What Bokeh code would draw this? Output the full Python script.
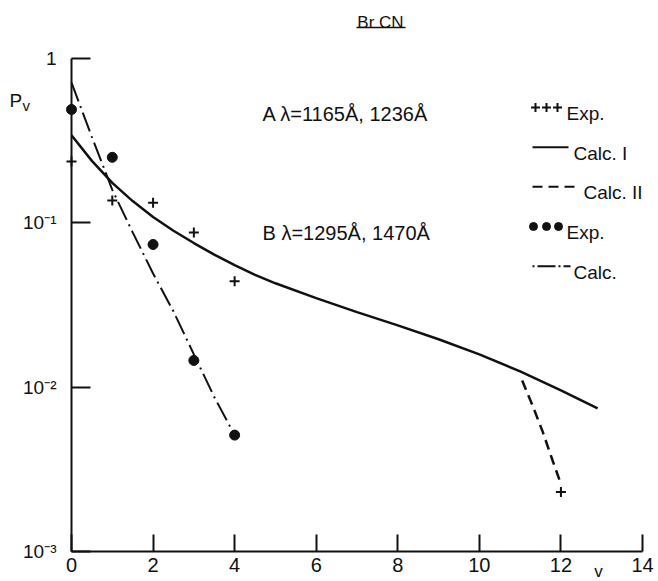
from bokeh.plotting import figure
from bokeh.models import Label, FixedTicker, Range1d, LinearAxis, LogAxis
from bokeh.embed import file_html
from bokeh.resources import INLINE

# ---- BrCN photodissociation: vibrational population P_v of CN ----
# A: lambda = 1165 A, 1236 A  -- experiment (crosses)
v_exp_a = [0, 1, 2, 3, 4, 12]
p_exp_a = [0.235, 0.136, 0.132, 0.087, 0.044, 0.0023]

# B: lambda = 1295 A, 1470 A  -- experiment (dots)
v_exp_b = [0, 1, 2, 3, 4]
p_exp_b = [0.486, 0.249, 0.0735, 0.0145, 0.0051]

# A: calculation I (solid)
v_calc1 = [0, 0.5, 1, 1.5, 2, 2.5, 3, 3.5, 4, 4.5, 5, 6, 7, 8, 9, 10, 11, 12, 12.9]
p_calc1 = [0.339, 0.237, 0.174, 0.135, 0.108, 0.0891, 0.0750, 0.0638, 0.0550,
           0.0481, 0.0427, 0.0347, 0.0285, 0.0237, 0.0195, 0.0158, 0.01245,
           0.00955, 0.00741]

# A: calculation II (dashed, high v)
v_calc2 = [11.05, 11.3, 11.55, 11.8, 12.0]
p_calc2 = [0.01096, 0.00776, 0.00537, 0.00355, 0.00257]

# B: calculation (dash-dot)
v_calcb = [0, 0.5, 1, 1.5, 2, 2.5, 3, 3.5, 4]
p_calcb = [0.708, 0.331, 0.158, 0.0871, 0.049, 0.0288, 0.0158, 0.0087, 0.0051]

x_ticks = [0, 2, 4, 6, 8, 10, 12, 14]
y_ticks = [0.001, 0.01, 0.1, 1]
y_tick_labels = ["10\u207b\u00b3", "10\u207b\u00b2", "10\u207b\u00b9", "1"]

FONT = "Liberation Sans"
INK = "#111111"

# ---- page geometry (canvas pixels) ----
W, H = 658, 581
LEFT = 71            # canvas x of v = 0
BOTTOM = 551         # canvas y of P = 1e-3
PX_PER_V = 571 / 14.0
PX_PER_DEC = 164.5


def vx(px):
    """canvas x -> v"""
    return (px - LEFT) / PX_PER_V


def py(px):
    """canvas y -> P"""
    return 10 ** (-3 + (BOTTOM - px) / PX_PER_DEC)


# the frame fills the whole canvas; the axes sit at v = 0 and P = 1e-3
p = figure(width=W, height=H, title=None,
           x_range=Range1d(vx(0), vx(W)), y_range=Range1d(py(H), py(0)),
           y_axis_type="log", x_axis_location=None, y_axis_location=None,
           output_backend="svg", toolbar_location=None,
           min_border_left=0, min_border_right=0,
           min_border_top=0, min_border_bottom=0)
p.outline_line_color = None
p.xgrid.visible = False
p.ygrid.visible = False
p.background_fill_color = "white"
p.border_fill_color = "white"

xaxis = LinearAxis(fixed_location=1e-3, bounds=(0, 14),
                   ticker=FixedTicker(ticks=x_ticks))
yaxis = LogAxis(fixed_location=0, bounds=(1e-3, 1),
                ticker=FixedTicker(ticks=y_ticks),
                major_label_overrides=dict(zip(y_ticks, y_tick_labels)))
p.add_layout(xaxis, "below")
p.add_layout(yaxis, "left")

# ticks pointing inward
for ax in (xaxis, yaxis):
    ax.axis_line_color = INK
    ax.axis_line_width = 2
    ax.major_tick_line_color = INK
    ax.major_tick_line_width = 2
    ax.major_tick_out = 0
    ax.minor_tick_line_color = None
    ax.major_label_text_font = FONT
    ax.major_label_text_color = INK

xaxis.major_tick_in = 17
xaxis.major_label_standoff = 6
xaxis.major_label_text_font_size = "20px"

yaxis.major_tick_in = 19
yaxis.major_label_standoff = 15
yaxis.major_label_text_font_size = "19px"

# ---- curves ----
p.line(v_calc1, p_calc1, line_color=INK, line_width=2.5)
p.line(v_calc2, p_calc2, line_color=INK, line_width=2.5, line_dash="10 6")
p.line(v_calcb, p_calcb, line_color=INK, line_width=2, line_dash="20 5 2 5")

# ---- experimental points ----
p.scatter(v_exp_a, p_exp_a, marker="cross", size=10, line_color=INK, line_width=2)
p.scatter(v_exp_b, p_exp_b, marker="circle", size=10, fill_color=INK, line_color=INK)


def label(text, x_px, y_px, size, align="left", baseline="alphabetic"):
    p.add_layout(Label(x=vx(x_px), y=py(y_px), text=text, text_font=FONT,
                       text_font_size=f"{size}px", text_color=INK,
                       text_align=align, text_baseline=baseline))


# title with underline
label("Br CN", 380, 22, 17, align="center")
p.line([vx(356), vx(405)], [py(27), py(27)], line_color=INK, line_width=1.5)

# axis names
label("P", 9, 100, 19)
label("v", 22, 105, 15)
label("v", 598, 580, 17, align="center", baseline="bottom")

# wavelength groups
label("A  \u03bb=1165\u00c5, 1236\u00c5", 262, 113, 20)
label("B  \u03bb=1295\u00c5, 1470\u00c5", 262, 232, 20)

# ---- key ----
rows = [113, 152.7, 192.3, 232, 271.7]
mid = [r - 6 for r in rows]
p.scatter([vx(535), vx(546), vx(557)], [py(mid[0])] * 3, marker="cross",
          size=9, line_color=INK, line_width=2)
label("Exp.", 566, rows[0], 19)
p.line([vx(532), vx(568)], [py(mid[1])] * 2, line_color=INK, line_width=2)
label("Calc. I", 573, rows[1], 19)
p.line([vx(532), vx(580)], [py(mid[2])] * 2, line_color=INK, line_width=2,
       line_dash="10 6")
label("Calc. II", 583, rows[2], 19)
p.scatter([vx(533), vx(546), vx(558)], [py(mid[3])] * 3, marker="circle",
          size=8, fill_color=INK, line_color=INK)
label("Exp.", 566, rows[3], 19)
p.line([vx(532), vx(570)], [py(mid[4])] * 2, line_color=INK, line_width=2,
       line_dash="2 3 18 3")
label("Calc.", 573, rows[4], 19)

open("out.html", "w").write(file_html(p, INLINE))
